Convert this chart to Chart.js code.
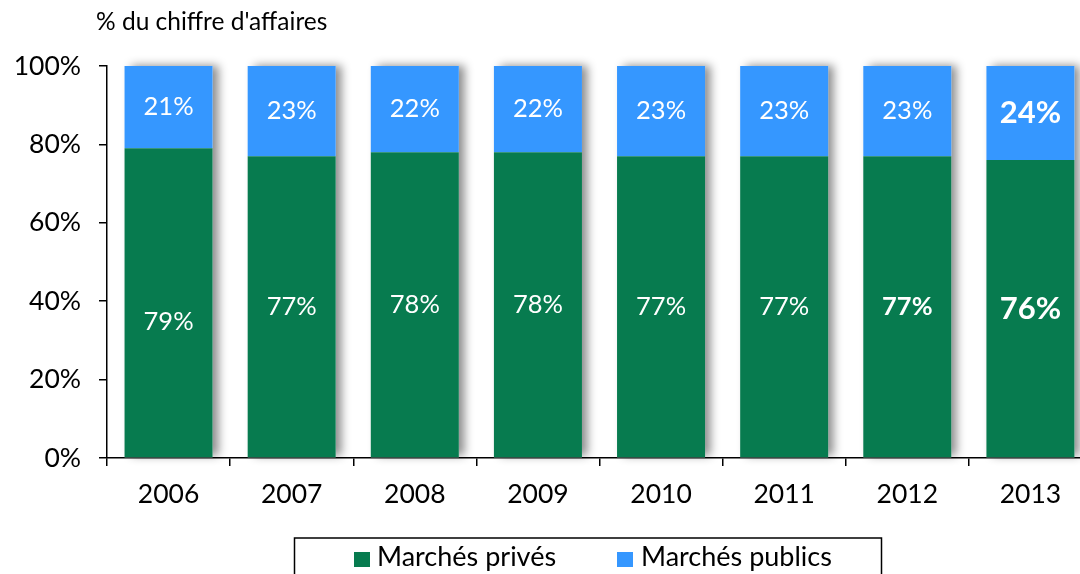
<!DOCTYPE html>
<html><head><meta charset="utf-8">
<script src="https://cdn.jsdelivr.net/npm/chart.js@4/dist/chart.umd.min.js"></script>
<style>
html,body{margin:0;padding:0;background:#fff;overflow:hidden;width:1080px;height:574px}
#wrap{position:relative;width:1092px;height:574px}
</style></head>
<body><div id="wrap"><canvas id="c" width="1092" height="574"></canvas></div>
<script>
const years = ['2006','2007','2008','2009','2010','2011','2012','2013'];
const privateShare = [79,77,78,78,77,77,77,76];
const publicShare = [21,23,22,22,23,23,23,24];
const yTickValues = [0,20,40,60,80,100];
const axisTitle = "% du chiffre d'affaires";
const seriesNames = ['Marchés privés','Marchés publics'];

const GREEN = '#077B4F';
const BLUE = '#3597FF';
const FONT = 'Lato, "Open Sans", sans-serif';

const labelStyle = (ds, i) => {
  if (i === 7) return {bold:true, size:31};
  if (ds === 0 && i === 6) return {bold:true, size:25.5};
  return {bold:false, size:25.5};
};
const labelOffsetY = (ds, i) => (ds === 0 && i === 0) ? 19 : 0;

const shadowPlugin = {
  id:'barShadow',
  beforeDatasetsDraw(chart){
    const ctx = chart.ctx;
    const m0 = chart.getDatasetMeta(0), m1 = chart.getDatasetMeta(1);
    ctx.save();
    ctx.shadowColor = 'rgba(0,0,0,0.45)';
    ctx.shadowBlur = 9;
    ctx.shadowOffsetX = 6;
    ctx.shadowOffsetY = -1;
    ctx.fillStyle = '#ffffff';
    m0.data.forEach((b, i) => {
      const t = m1.data[i];
      const w = b.width;
      ctx.fillRect(b.x - w/2, t.y, w, b.base - t.y);
    });
    ctx.restore();
  }
};

const labelPlugin = {
  id:'segLabels',
  afterDatasetsDraw(chart){
    const ctx = chart.ctx;
    ctx.save();
    ctx.fillStyle = '#ffffff';
    ctx.textAlign = 'center';
    ctx.textBaseline = 'middle';
    chart.data.datasets.forEach((ds, di) => {
      chart.getDatasetMeta(di).data.forEach((b, i) => {
        const st = labelStyle(di, i);
        ctx.font = (st.bold ? 'bold ' : '') + st.size + 'px ' + FONT;
        ctx.fillText(ds.data[i] + '%', b.x, (b.y + b.base)/2 + labelOffsetY(di, i));
      });
    });
    ctx.restore();
  }
};

const decorPlugin = {
  id:'decor',
  afterDraw(chart){
    const ctx = chart.ctx;
    ctx.save();
    ctx.fillStyle = '#000';
    ctx.textAlign = 'left';
    ctx.textBaseline = 'alphabetic';
    ctx.font = '24.5px ' + FONT;
    ctx.fillText(axisTitle, 96, 30);
    ctx.strokeStyle = '#000';
    ctx.lineWidth = 1.5;
    ctx.strokeRect(294.5, 538, 587, 60);
    ctx.font = '27px ' + FONT;
    ctx.fillStyle = GREEN; ctx.fillRect(354, 552, 16, 15);
    ctx.fillStyle = '#000'; ctx.fillText(seriesNames[0], 377, 566);
    ctx.fillStyle = BLUE; ctx.fillRect(617, 552, 16, 15);
    ctx.fillStyle = '#000'; ctx.fillText(seriesNames[1], 641, 566);
    ctx.restore();
  }
};

new Chart(document.getElementById('c'), {
  type:'bar',
  data:{
    labels: years,
    datasets:[
      {label: seriesNames[0], data: privateShare, backgroundColor: GREEN, barPercentage:0.715, categoryPercentage:1},
      {label: seriesNames[1], data: publicShare, backgroundColor: BLUE, barPercentage:0.715, categoryPercentage:1}
    ]
  },
  options:{
    responsive:false,
    animation:false,
    devicePixelRatio:1,
    layout:{padding:{top:66, left:0, right:0, bottom:0}},
    plugins:{legend:{display:false}, tooltip:{enabled:false}, title:{display:false}},
    scales:{
      x:{
        stacked:true,
        grid:{offset:true, drawOnChartArea:false, drawTicks:true, tickLength:8, color:'#000', lineWidth:1.5},
        border:{color:'#000', width:1.5},
        ticks:{color:'#000', font:{family:FONT, size:26.5}, padding:13, maxRotation:0},
        afterFit(s){ s.height = 116; }
      },
      y:{
        stacked:true,
        min:0, max:100,
        afterBuildTicks(s){ s.ticks = yTickValues.map(v => ({value:v})); },
        grid:{drawOnChartArea:false, drawTicks:true, tickLength:8, color:'#000', lineWidth:1.5},
        border:{color:'#000', width:1.5},
        ticks:{color:'#000', font:{family:FONT, size:26.5}, padding:18, callback:v => v + '%'},
        afterFit(s){ s.width = 107; }
      }
    }
  },
  plugins:[shadowPlugin, labelPlugin, decorPlugin]
});
</script></body></html>
